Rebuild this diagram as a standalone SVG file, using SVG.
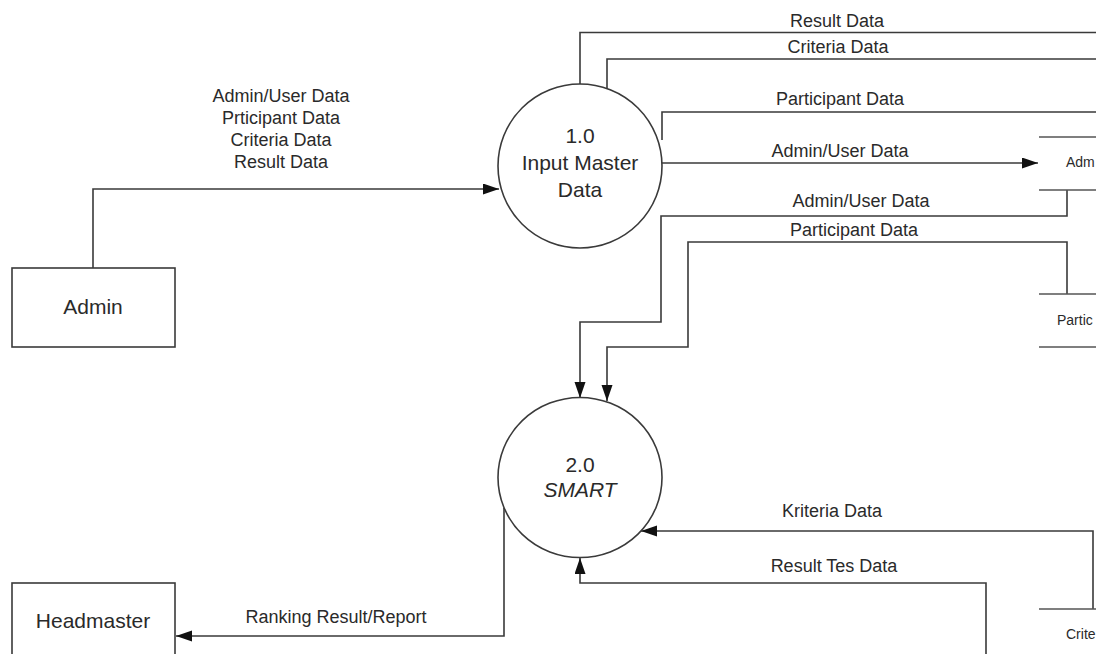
<svg xmlns="http://www.w3.org/2000/svg" width="1096" height="654" viewBox="0 0 1096 654">
<style>
.ln{fill:none;stroke:#3a3a3a;stroke-width:1.6}
.shape{fill:#fff;stroke:#3a3a3a;stroke-width:1.6}
.store{fill:none;stroke:#555;stroke-width:1.6}
.lbl{font-family:"Liberation Sans",Arial,sans-serif;font-size:18px;fill:#2a2a2a;text-anchor:middle}
.big{font-family:"Liberation Sans",Arial,sans-serif;font-size:21px;fill:#2a2a2a;text-anchor:middle}
.st{font-family:"Liberation Sans",Arial,sans-serif;font-size:14px;fill:#2a2a2a}
</style>
<defs>
<marker id="arr" markerUnits="userSpaceOnUse" markerWidth="17" markerHeight="12" refX="16" refY="5.5" orient="auto">
<path d="M0,0 L16,5.5 L0,11 z" fill="#111"/>
</marker>
</defs>
<rect width="1096" height="654" fill="#fff"/>
<g id="connectors">
<path class="ln" d="M93,268 V189 H499" marker-end="url(#arr)"/>
<path class="ln" d="M580,84 V32.5 H1096"/>
<path class="ln" d="M607,89 V59 H1096"/>
<path class="ln" d="M662,140 V112 H1096"/>
<path class="ln" d="M662,163 H1038" marker-end="url(#arr)"/>
<path class="ln" d="M1067,190 V216 H661 V322 H580 V398" marker-end="url(#arr)"/>
<path class="ln" d="M1067,294 V242 H688 V347 H607 V401" marker-end="url(#arr)"/>
<path class="ln" d="M1093,609 V531 H641" marker-end="url(#arr)"/>
<path class="ln" d="M986,654 V583 H580 V558" marker-end="url(#arr)"/>
<path class="ln" d="M504,508 V636 H176" marker-end="url(#arr)"/>
<text class="lbl" x="281" y="101.5">Admin/User Data</text>
<text class="lbl" x="281" y="123.7">Prticipant Data</text>
<text class="lbl" x="281" y="145.9">Criteria Data</text>
<text class="lbl" x="281" y="168">Result Data</text>
<text class="lbl" x="837" y="27">Result Data</text>
<text class="lbl" x="838" y="53">Criteria Data</text>
<text class="lbl" x="840" y="105">Participant Data</text>
<text class="lbl" x="840" y="157">Admin/User Data</text>
<text class="lbl" x="861" y="207">Admin/User Data</text>
<text class="lbl" x="854" y="236">Participant Data</text>
<text class="lbl" x="832" y="517">Kriteria Data</text>
<text class="lbl" x="834" y="572">Result Tes Data</text>
<text class="lbl" x="336" y="623">Ranking Result/Report</text>
</g>
<g id="admin">
<rect class="shape" x="12" y="268" width="163" height="79"/>
<text class="big" x="93" y="314">Admin</text>
</g>
<g id="headmaster">
<rect class="shape" x="12" y="583" width="163" height="100"/>
<text class="big" x="93" y="628">Headmaster</text>
</g>
<g id="p1">
<ellipse class="shape" cx="580" cy="166" rx="82" ry="82"/>
<text class="big" x="580" y="143">1.0</text>
<text class="big" x="580" y="170">Input Master</text>
<text class="big" x="580" y="197">Data</text>
</g>
<g id="p2">
<ellipse class="shape" cx="580" cy="477.5" rx="82" ry="80"/>
<text class="big" x="580" y="472">2.0</text>
<text class="big" x="580" y="497" font-style="italic">SMART</text>
</g>
<g id="store-admin">
<path class="store" d="M1039,137 H1096 M1039,190 H1096"/>
<text class="st" x="1066" y="167">Adm</text>
</g>
<g id="store-participant">
<path class="store" d="M1039,294 H1096 M1039,347 H1096"/>
<text class="st" x="1057" y="325">Partic</text>
</g>
<g id="store-criteria">
<path class="store" d="M1039,609 H1096"/>
<text class="st" x="1066" y="639">Crite</text>
</g>
</svg>
